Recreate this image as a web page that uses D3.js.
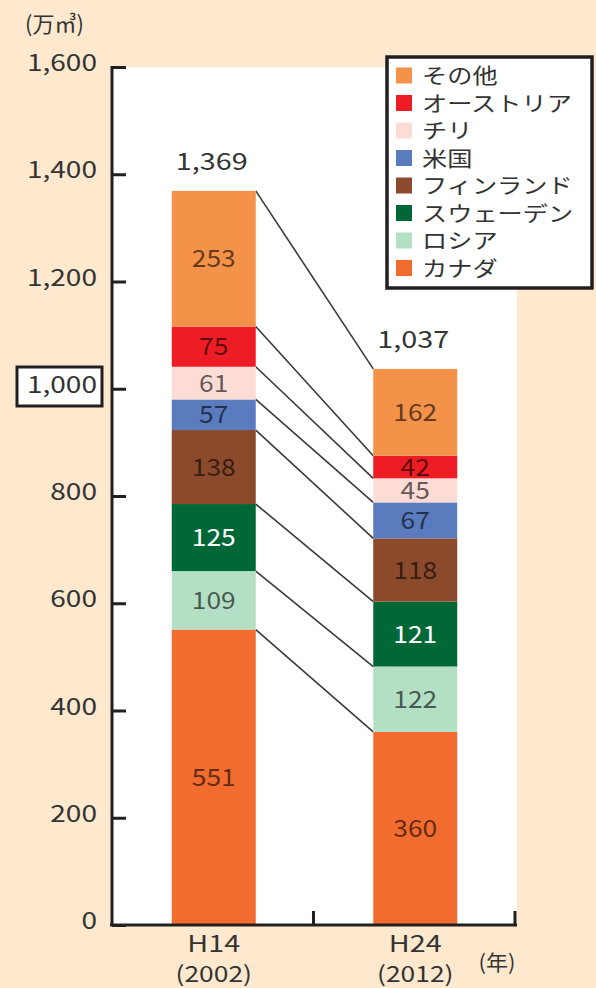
<!DOCTYPE html>
<html><head><meta charset="utf-8">
<script src="https://cdn.jsdelivr.net/npm/d3@7/dist/d3.min.js"></script>
<style>
html,body{margin:0;padding:0;background:#FEE9CF;}
svg{display:block;}
text{font-family:"Noto Sans CJK JP","Noto Sans",sans-serif;}
</style></head>
<body>
<svg id="chart" width="596" height="988"></svg>
<script>
const years = ["H14", "H24"];
const yearSub = ["(2002)", "(2012)"];
const countries = ["カナダ", "ロシア", "スウェーデン", "フィンランド", "米国", "チリ", "オーストリア", "その他"];
const colors = ["#F26C30", "#B3DFC4", "#006837", "#8B4A2C", "#5B7BBF", "#FDDCD6", "#EE1C25", "#F4924A"];
const valuesH14 = [551, 109, 125, 138, 57, 61, 75, 253];
const valuesH24 = [360, 122, 121, 118, 67, 45, 42, 162];
const totals = ["1,369", "1,037"];
const yTicks = [0, 200, 400, 600, 800, 1000, 1200, 1400, 1600];
const whiteLabel = ["スウェーデン"];

const svg = d3.select("#chart");
const ink = "#231F20";

function txt(parent, x, y, str, size, sx, anchor, fill) {
  return parent.append("text")
    .attr("transform", `translate(${x},${y}) scale(${sx},1)`)
    .attr("text-anchor", anchor || "start")
    .attr("font-size", size)
    .attr("fill", fill || "#333")
    .text(str);
}

const y = d3.scaleLinear().domain([0, 1600]).range([925, 67]);
const x = d3.scaleBand().domain(years).range([112, 515]).paddingInner(0);
const barW = 84;
const barX = d => x(d) + (x.bandwidth() - barW) / 2 + 1;

// plot area
svg.append("rect").attr("x", 112).attr("y", 67).attr("width", 405).attr("height", 858).attr("fill", "#fff");

const series = [valuesH14, valuesH24];
const stacks = series.map(vals => {
  let c = 0;
  return vals.map(v => { const s = c; c += v; return { y0: s, y1: c, v }; });
});

// connectors
const g = svg.append("g");
countries.forEach((c, i) => {
  g.append("line")
    .attr("x1", barX(years[0]) + barW).attr("y1", y(stacks[0][i].y1))
    .attr("x2", barX(years[1])).attr("y2", y(stacks[1][i].y1))
    .attr("stroke", "#3a3a3a").attr("stroke-width", 1.6);
});

// bars
years.forEach((yr, j) => {
  stacks[j].forEach((s, i) => {
    g.append("rect")
      .attr("x", barX(yr)).attr("width", barW)
      .attr("y", y(s.y1)).attr("height", y(s.y0) - y(s.y1))
      .attr("fill", colors[i]);
    const white = whiteLabel.includes(countries[i]);
    txt(g, barX(yr) + barW / 2, (y(s.y0) + y(s.y1)) / 2 + 8.5, s.v, 24, 1.1, "middle", white ? "#fff" : "#000")
      .attr("fill-opacity", white ? 1 : 0.62);
  });
  txt(g, barX(yr) + barW / 2 - 2, y(stacks[j][stacks[j].length - 1].y1) - 21, totals[j], 24, 1.2, "middle");
});

// axes
const yAxis = d3.axisRight(y).tickValues(yTicks).tickSize(14).tickFormat("");
const ya = svg.append("g").attr("transform", "translate(112,0)").call(yAxis);
ya.select(".domain").attr("stroke", ink).attr("stroke-width", 3).attr("d", "M0,66V925");
ya.selectAll(".tick line").attr("stroke", ink).attr("stroke-width", 3);

// boxed 1,000
svg.append("rect").attr("x", 17).attr("y", 367).attr("width", 85).attr("height", 39)
  .attr("fill", "#fff").attr("stroke", ink).attr("stroke-width", 3);

yTicks.forEach(t => {
  txt(svg, 97, y(t) + 4, d3.format(",")(t), 23, 1.22, "end");
});

// bottom axis
const xAxis = d3.axisTop(x).tickValues([]).tickSize(0);
const xa = svg.append("g").attr("transform", "translate(0,925)").call(xAxis);
xa.select(".domain").attr("d", "M110,0H517").attr("stroke", ink).attr("stroke-width", 3);
years.forEach((yr, j) => {
  const tx = x(yr) + x.bandwidth();
  svg.append("line").attr("x1", tx).attr("x2", tx).attr("y1", 911).attr("y2", 925)
    .attr("stroke", ink).attr("stroke-width", 3);
  const cx = barX(yr) + barW / 2;
  txt(svg, cx, 952, yr, 23, 1.25, "middle");
  txt(svg, cx, 982, yearSub[j], 22, 1.2, "middle");
});
txt(svg, 497, 970, "(年)", 21, 1.05, "middle");

// unit
txt(svg, 25, 32, "(万㎥)", 22, 1.0, "start");

// legend
const lg = svg.append("g");
lg.append("rect").attr("x", 387).attr("y", 57).attr("width", 205).attr("height", 231)
  .attr("fill", "#fff").attr("stroke", ink).attr("stroke-width", 3.5);
const legendOrder = countries.map((c, i) => i).reverse();
legendOrder.forEach((i, k) => {
  const cy = 75.5 + k * 27.5;
  lg.append("rect").attr("x", 396).attr("y", cy - 8).attr("width", 16).attr("height", 16).attr("fill", colors[i]);
  txt(lg, 422, cy + 7.5, countries[i], 21, 1.2, "start");
});
</script>
</body></html>
